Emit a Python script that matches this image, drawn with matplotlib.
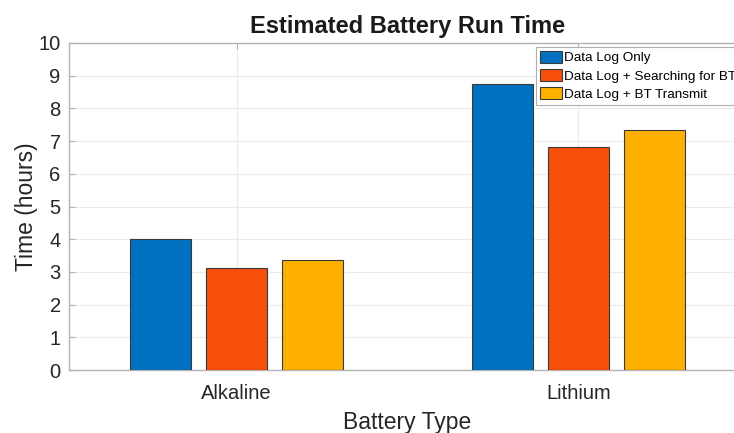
import matplotlib.pyplot as plt
import numpy as np

battery_types = ['Alkaline', 'Lithium']
series_names = ['Data Log Only', 'Data Log + Searching for BT', 'Data Log + BT Transmit']
data_log_only = [4.0, 8.74]
searching_bt = [3.11, 6.81]
bt_transmit = [3.35, 7.35]
colors = ['#0070C0', '#F64F0A', '#FDB000']

plt.rcParams['font.family'] = ['Liberation Sans', 'DejaVu Sans']

W, H = 734, 433
fig = plt.figure(figsize=(W / 100, H / 100), dpi=100)
# axes runs a bit past the right edge, like the original export
left, right, bottom, top = 69, 746, 433 - 370, 433 - 43
ax = fig.add_axes([left / W, bottom / H, (right - left) / W, (top - bottom) / H])

x = np.arange(1, len(battery_types) + 1)
offsets = [-0.223, 0.0, 0.223]
width = 0.179
for vals, off, name, col in zip([data_log_only, searching_bt, bt_transmit], offsets, series_names, colors):
    ax.bar(x + off, vals, width, color=col, edgecolor='#3a3a3a', linewidth=0.8, label=name, zorder=3)

ax.set_xlim(0.51, 2.49)
ax.set_ylim(0, 10)
ax.set_yticks(range(0, 11))
ax.set_xticks(x)
ax.set_xticklabels(battery_types)
ax.tick_params(direction='in', length=4, color='#b0b0b0', labelsize=14.5, labelcolor='#262626',
               top=True, right=True, pad=6)
ax.tick_params(axis='x', pad=10)
ax.grid(True, color='#ebebeb', linewidth=0.8, zorder=0)
for s in ax.spines.values():
    s.set_color('#b3b3b3')
    s.set_linewidth(1.0)

ax.set_title('Estimated Battery Run Time', fontsize=17, fontweight='bold', color='#1a1a1a', pad=7)
ax.set_ylabel('Time (hours)', fontsize=16.5, color='#262626', labelpad=0)
ax.set_xlabel('Battery Type', fontsize=16.5, color='#262626', labelpad=6)

leg = ax.legend(loc='upper left', bbox_to_anchor=(536 / W, 1 - 47 / H), bbox_transform=fig.transFigure,
                fontsize=9.7, frameon=True, fancybox=False, edgecolor='#b0b0b0', framealpha=1,
                handlelength=1.65, handleheight=0.95, handletextpad=0.1, labelspacing=0.35,
                borderpad=0.3, borderaxespad=0)
leg.get_frame().set_linewidth(0.8)

fig.savefig('out.png', dpi=100)
